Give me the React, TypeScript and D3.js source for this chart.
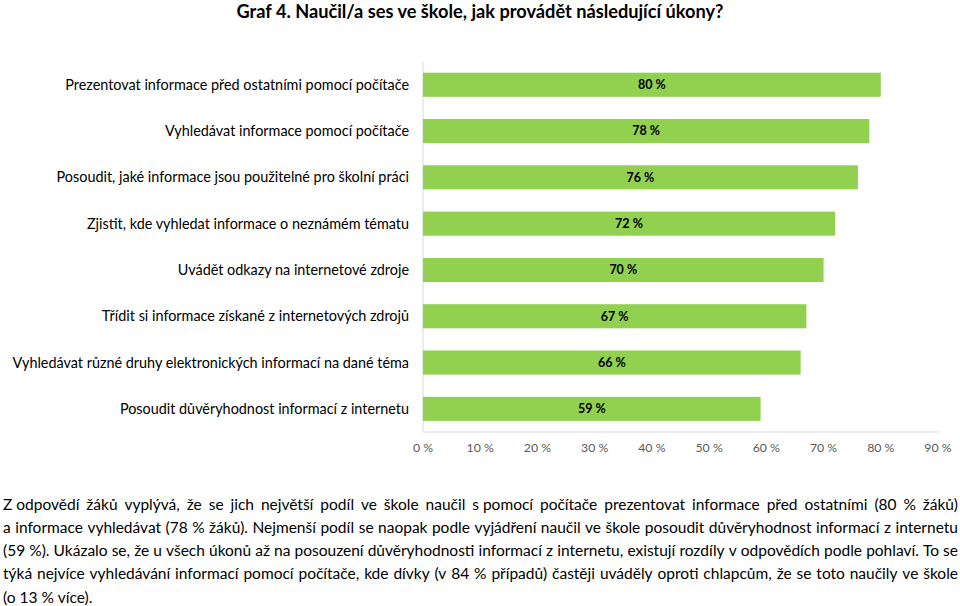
import React, { useMemo } from "react";
import * as d3 from "d3";

const title = "Graf 4. Naučil/a ses ve škole, jak provádět následující úkony?";

const categories = [
  "Prezentovat informace před ostatními pomocí počítače",
  "Vyhledávat informace pomocí počítače",
  "Posoudit, jaké informace jsou použitelné pro školní práci",
  "Zjistit, kde vyhledat informace o neznámém tématu",
  "Uvádět odkazy na internetové zdroje",
  "Třídit si informace získané z internetových zdrojů",
  "Vyhledávat různé druhy elektronických informací na dané téma",
  "Posoudit důvěryhodnost informací z internetu",
];

const values = [80, 78, 76, 72, 70, 67, 66, 59];

const ticks = [0, 10, 20, 30, 40, 50, 60, 70, 80, 90];

const paragraphLines = [
  "Z\u00a0odpovědí žáků vyplývá, že se jich největší podíl ve škole naučil s\u00a0pomocí počítače prezentovat informace před ostatními (80 % žáků)",
  "a informace vyhledávat (78 % žáků). Nejmenší podíl se naopak podle vyjádření naučil ve škole posoudit důvěryhodnost informací z internetu",
  "(59 %). Ukázalo se, že u všech úkonů až na posouzení důvěryhodnosti informací z internetu, existují rozdíly v odpovědích podle pohlaví. To se",
  "týká nejvíce vyhledávání informací pomocí počítače, kde dívky (v 84 % případů) častěji uváděly oproti chlapcům, že se toto naučily ve škole",
  "(o 13 % více).",
];

const FONT = "Lato, 'Open Sans', sans-serif";
const W = 960;
const H = 606;

function useMeasure() {
  return useMemo(() => {
    const c = document.createElement("canvas");
    const ctx = c.getContext("2d")!;
    return (text: string, font: string) => {
      ctx.font = font;
      return ctx.measureText(text).width;
    };
  }, []);
}

export default function App() {
  const measure = useMeasure();

  const x = d3.scaleLinear().domain([0, 90]).range([423, 938]);
  const y = d3
    .scaleBand<string>()
    .domain(categories)
    .range([61.6, 432])
    .paddingInner(0.48)
    .paddingOuter(0.24);

  const paraFontSize = 15.5;
  const paraFont = `${paraFontSize}px Lato`;
  const paraLeft = 3;
  const paraRight = 958;
  const paraTop = 509.5;
  const paraLH = 23.3;

  const laidOut = paragraphLines.map((line, i) => {
    const words = line.split(" ");
    const widths = words.map((w) => measure(w, paraFont));
    const spaceW = measure(" ", paraFont);
    const total = widths.reduce((a, b) => a + b, 0);
    const last = i === paragraphLines.length - 1;
    const gap = last
      ? spaceW
      : (paraRight - paraLeft - total) / Math.max(1, words.length - 1);
    let cx = paraLeft;
    return words.map((w, j) => {
      const pos = cx;
      cx += widths[j] + gap;
      return { w, x: pos };
    });
  });

  return (
    <svg width={W} height={H} style={{ position: "absolute", left: 0, top: 0, background: "#fff" }} fontFamily={FONT}>
      <rect width={W} height={H} fill="#fff" />
      <text x={480} y={18} textAnchor="middle" fontSize={18.2} fontWeight="bold" fill="#000">
        {title}
      </text>

      {/* axis lines */}
      <line x1={x(0)} x2={x(0)} y1={61.6} y2={432} stroke="#d9d9d9" strokeWidth={1} />
      <line x1={x(0)} x2={x(90)} y1={432} y2={432} stroke="#d9d9d9" strokeWidth={1} />

      {categories.map((c, i) => (
        <g key={c}>
          <rect
            x={x(0)}
            y={y(c)!}
            width={x(values[i]) - x(0)}
            height={y.bandwidth()}
            fill="#92d050"
          />
          <text
            x={(x(0) + x(values[i])) / 2}
            y={y(c)! + y.bandwidth() / 2}
            dy="0.35em"
            textAnchor="middle"
            fontSize={12.5}
            fontWeight="bold"
            fill="#000"
          >
            {`${values[i]} %`}
          </text>
          <text
            x={409}
            y={y(c)! + y.bandwidth() / 2}
            dy="0.35em"
            textAnchor="end"
            fontSize={14.4}
            fill="#000"
          >
            {c}
          </text>
        </g>
      ))}

      {ticks.map((t) => (
        <text key={t} x={x(t)} y={448} dy="0.35em" textAnchor="middle" fontSize={12.3} fill="#595959">
          {`${t} %`}
        </text>
      ))}

      {laidOut.map((line, i) => (
        <text key={i} y={paraTop + i * paraLH} fontSize={paraFontSize} fill="#000" fontFamily="Lato">
          {line.map((wd, j) => (
            <tspan key={j} x={wd.x}>
              {wd.w}
            </tspan>
          ))}
        </text>
      ))}
    </svg>
  );
}
